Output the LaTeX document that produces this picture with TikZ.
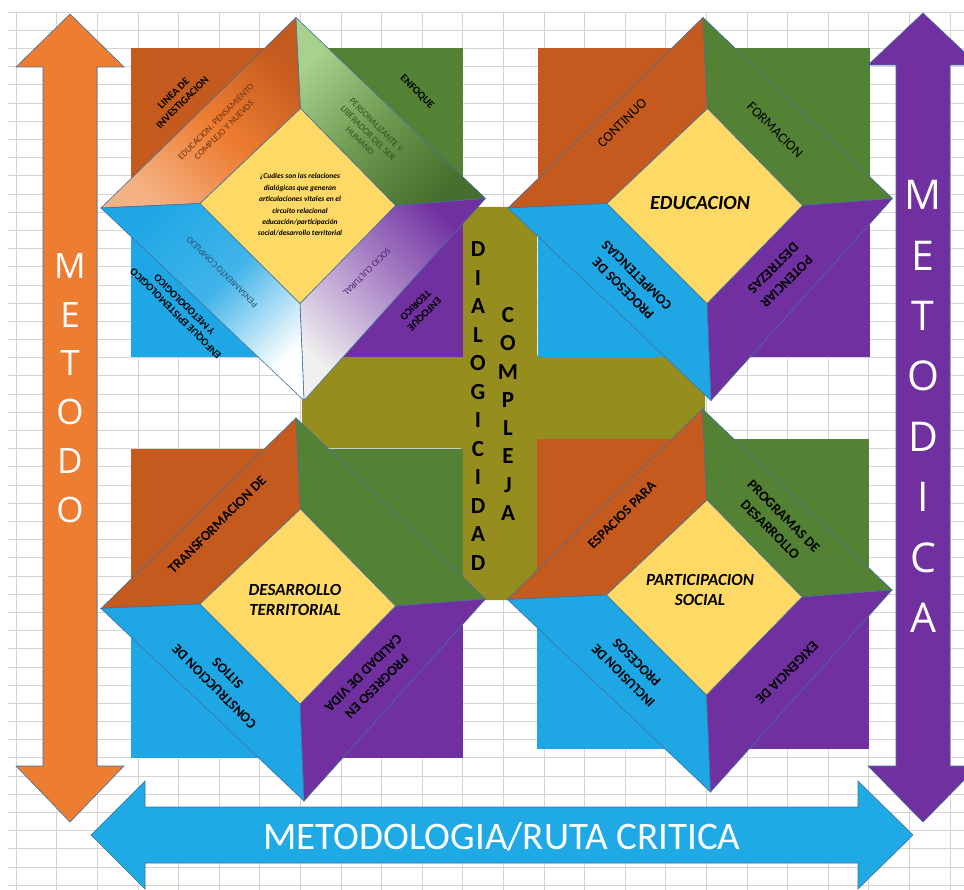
\documentclass[tikz,border=0pt]{standalone}
\usepackage{fontspec}
\setmainfont{Carlito}
\newfontfamily\opensans{Open Sans}
\usetikzlibrary{positioning}

\definecolor{naranja}{HTML}{C55A1E}
\definecolor{naranjaclaro}{HTML}{F4B183}
\definecolor{verde}{HTML}{548235}
\definecolor{verdeclaro}{HTML}{A9D18E}
\definecolor{azul}{HTML}{1FA7E5}
\definecolor{morado}{HTML}{7030A0}
\definecolor{amarillo}{HTML}{FFD966}
\definecolor{oliva}{HTML}{958E1E}
\definecolor{flechaN}{HTML}{ED7D31}
\definecolor{flechaA}{HTML}{1FAAE6}
\definecolor{bordec}{HTML}{41719C}
\definecolor{gris}{HTML}{D4D4D4}

\tikzset{
  borde/.style={draw=bordec, line width=0.6pt},
  alaN/.style={borde, fill=naranja},
  alaV/.style={borde, fill=verde},
  alaA/.style={borde, fill=azul},
  alaM/.style={borde, fill=morado},
  gradN/.style={borde, top color=naranja, bottom color=naranjaclaro, middle color=flechaN, shading angle=-45},
  gradV/.style={borde, top color=verdeclaro, bottom color=verde!85!black, middle color=verde!70!verdeclaro, shading angle=45},
  gradA/.style={borde, top color=azul, bottom color=white, middle color=azul!85!white, shading angle=45},
  gradM/.style={borde, top color=morado, bottom color=gray!12, middle color=morado!55!white, shading angle=-45},
  centro/.style={borde, fill=amarillo},
  rejilla/.style={draw=gris, line width=0.6pt},
  chico/.style={font=\fontsize{9}{11.5}\selectfont, align=center},
  chicob/.style={font=\fontsize{10.5}{12.5}\selectfont\bfseries, align=center},
  rotulo/.style={font=\fontsize{14}{19}\selectfont\bfseries, align=center},
  titulo/.style={font=\fontsize{17}{20}\selectfont\bfseries\itshape, align=center},
  letras/.style={font=\fontsize{23}{28.5}\selectfont\bfseries, align=center}
}

\newcommand{\bloque}[6]{%
  \begin{scope}[shift={#2}]
    \fill[naranja] (-168,-157.5) rectangle (0,0);
    \fill[verde] (0,-157.5) rectangle (164,0);
    \fill[azul] (-168,0) rectangle (0,151.5);
    \fill[morado] (0,0) rectangle (164,151.5);
    \coordinate (#1oT) at (-2.5,-188);
    \coordinate (#1oR) at (187,-7);
    \coordinate (#1oB) at (5.5,195);
    \coordinate (#1oL) at (-197.5,2.5);
    \coordinate (#1iT) at (2,-97);
    \coordinate (#1iR) at (97,0);
    \coordinate (#1iB) at (1.5,98);
    \coordinate (#1iL) at (-98.5,-2);
    \path[#3] (#1oL) -- (#1oT) -- (#1iT) -- (#1iL) -- cycle;
    \path[#4] (#1oT) -- (#1oR) -- (#1iR) -- (#1iT) -- cycle;
    \path[#5] (#1oR) -- (#1oB) -- (#1iB) -- (#1iR) -- cycle;
    \path[#6] (#1oB) -- (#1oL) -- (#1iL) -- (#1iB) -- cycle;
    \path[centro] (#1iT) -- (#1iR) -- (#1iB) -- (#1iL) -- cycle;
  \end{scope}}

\begin{document}
\begin{tikzpicture}[x=1pt, y=-1pt]
  \useasboundingbox (0,0) rectangle (964,890);
  \fill[white] (0,0) rectangle (964,890);
  \foreach \i in {0,...,48}
    \draw[rejilla] (8,12+18.19*\i) -- (964,12+18.19*\i);
  \foreach \i in {0,...,23}
    \draw[rejilla] (16+40.6*\i,12) -- (16+40.6*\i,890);

  \fill[oliva, rounded corners=3pt] (463,207) -- (537,207) -- (537,357) -- (705,357)
    -- (705,448) -- (537,448) -- (537,600) -- (463,600) -- (463,448) -- (302,448)
    -- (302,357) -- (463,357) -- cycle;

  \bloque{TL}{(298.5,205.5)}{gradN}{gradV}{gradM}{gradA}
  \bloque{TR}{(705.5,205.5)}{alaN}{alaV}{alaM}{alaA}
  \bloque{BL}{(298.5,606)}{alaN}{alaV}{alaM}{alaA}
  \bloque{BR}{(705,597)}{alaN}{alaV}{alaM}{alaA}

  \node[chicob, rotate=45] (lin) at (178,98) {LINEA DE\\INVESTIGACION};
  \node[chicob, rotate=-45] (enf) at (417,92) {ENFOQUE};
  \node[chico, rotate=45, text=naranja!55!black] (edu) at (220,126)
    {EDUCACION, PENSAMIENTO\\COMPLEJO Y NUEVOS};
  \node[chico, rotate=-45, text=verde!60!black] (per) at (368,133)
    {PERSONALIZANTE Y\\LIBERADOR DEL SER\\HUMANO};
  \node[chico, rotate=135, text=bordec!70!black] (pen) at (222,272) {PENSAMIENTO COMPLEJO};
  \node[chicob, rotate=135] (epi) at (180,309) {ENFOQUE EPISTEMOLOGICO\\Y METODOLOGICO};
  \node[chico, rotate=-135, text=morado!70!black] (soc) at (367,272) {SOCIO CULTURAL};
  \node[chicob, rotate=-135] (teo) at (420,310) {ENFOQUE\\TEORICO};
  \node[font=\fontsize{7.5}{11.4}\selectfont\bfseries\itshape, align=center] (preg) at (300,205)
    {¿Cuáles son las relaciones\\dialógicas que generan\\articulaciones vitales en el\\circuito relacional\\educación/participación\\social/desarrollo territorial};

  \node[titulo, font=\fontsize{20}{22}\selectfont\bfseries\itshape] (educ) at (700,203) {EDUCACION};
  \node[rotulo, font=\fontsize{14}{19}\selectfont, rotate=45] (cont) at (622,123) {CONTINUO};
  \node[rotulo, font=\fontsize{14}{19}\selectfont, rotate=-45] (form) at (775,130) {FORMACION};
  \node[rotulo, rotate=135] (proc) at (630,282) {PROCESOS DE\\COMPETENCIAS};
  \node[rotulo, rotate=-135] (pot) at (780,275) {POTENCIAR\\DESTREZAS};

  \node[titulo] (des) at (295,600) {DESARROLLO\\TERRITORIAL};
  \node[rotulo, rotate=45] (trans) at (217,525) {TRANSFORMACION DE};
  \node[rotulo, rotate=135] (cons) at (221,680) {CONSTRUCCION DE\\SITIOS};
  \node[rotulo, rotate=-135] (prog) at (370,680) {PROGRESO EN\\CALIDAD DE VIDA};

  \node[titulo] (part) at (700,590) {PARTICIPACION\\SOCIAL};
  \node[rotulo, rotate=45] (esp) at (622,515) {ESPACIOS PARA};
  \node[rotulo, rotate=-45] (progd) at (777,523) {PROGRAMAS DE\\DESARROLLO};
  \node[rotulo, rotate=135] (incl) at (630,669) {INCLUSION DE\\PROCESOS};
  \node[rotulo, rotate=-135] (exig) at (787,673) {EXIGENCIA DE};

  \node[letras] (dia) at (478,406) {D\\I\\A\\L\\O\\G\\I\\C\\I\\D\\A\\D};
  \node[letras, font=\fontsize{23}{28.3}\selectfont\bfseries] (comp) at (508,414) {C\\O\\M\\P\\L\\E\\J\\A};

  \path[borde, fill=flechaN] (70,14) -- (124,67) -- (97,67) -- (97,766) -- (124,766)
    -- (70,822) -- (16,766) -- (43,766) -- (43,67) -- (16,67) -- cycle;
  \path[borde, fill=morado] (923,13) -- (978,65) -- (950,65) -- (950,766) -- (978,766)
    -- (923,822) -- (868,766) -- (896,766) -- (896,65) -- (868,65) -- cycle;
  \path[borde, fill=flechaA] (91,835) -- (145,781) -- (145,807) -- (858,807) -- (858,781)
    -- (913,835) -- (858,889) -- (858,863) -- (145,863) -- (145,889) -- cycle;

  \node[font=\opensans\fontsize{35}{48.8}\selectfont, text=white, align=center] (metodo)
    at (70,388) {M\\E\\T\\O\\D\\O};
  \node[font=\opensans\fontsize{41}{60.4}\selectfont, text=white, align=center] (metodica)
    at (923,406.5) {M\\E\\T\\O\\D\\I\\C\\A};
  \node[font=\fontsize{39}{44}\selectfont, text=white] (ruta) at (502,837)
    {METODOLOGIA/RUTA CRITICA};
\end{tikzpicture}
\end{document}
